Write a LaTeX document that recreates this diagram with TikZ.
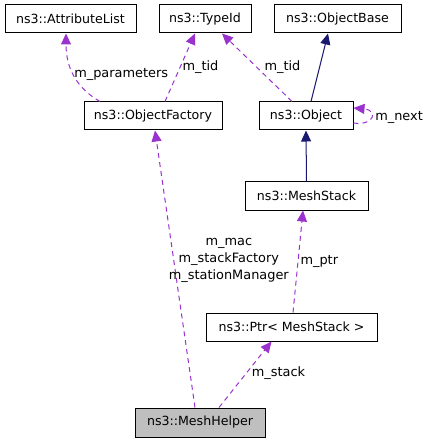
\documentclass[tikz,border=0pt]{standalone}
\usepackage{fontspec}
\setmainfont{DejaVu Sans}
\usetikzlibrary{arrows.meta}

\definecolor{edgepurple}{HTML}{9A32CD}
\definecolor{edgenavy}{HTML}{191970}
\definecolor{boxgray}{HTML}{BFBFBF}

\tikzstyle{cls}=[draw=black, line width=1pt, minimum height=28pt, inner sep=0pt, font=\fontsize{12.6}{15}\selectfont]
\tikzstyle{uses}=[draw=edgepurple, line width=1pt, dash pattern=on 5pt off 4pt, -{Triangle[length=11pt,width=10pt]}]
\tikzstyle{inherits}=[draw=edgenavy, line width=1pt, -{Triangle[length=11pt,width=10pt]}]
\tikzstyle{lbl}=[inner sep=2pt, font=\fontsize{12.9}{17}\selectfont, text=black]

\begin{document}
\begin{tikzpicture}[x=1pt, y=-1pt]
\useasboundingbox (0,0) rectangle (432,443);
\node[cls, minimum width=131pt](attrlist) at (70.5, 19) {ns3::AttributeList};
\node[cls, minimum width=92pt](typeid) at (205, 19) {ns3::TypeId};
\node[cls, minimum width=127pt](objbase) at (337.5, 19) {ns3::ObjectBase};
\node[cls, minimum width=138pt](factory) at (153, 116) {ns3::ObjectFactory};
\node[cls, minimum width=94pt](object) at (306, 116) {ns3::Object};
\node[cls, minimum width=123pt](meshstack) at (306.5, 196) {ns3::MeshStack};
\node[cls, minimum width=171pt](ptr) at (291.5, 327) {ns3::Ptr< MeshStack >};
\node[cls, minimum width=130pt, minimum height=29pt, fill=boxgray](helper) at (200, 422.5) {ns3::MeshHelper};

\begin{scope}[every node/.style={lbl}]
       \draw[uses] ([xshift=-53pt]factory.north) .. controls (80,90) and (66,72) .. node [pos=0.55, anchor=west, xshift=-2pt] {m\_parameters} ([xshift=-4.5pt]attrlist.south);
       \draw[uses] ([xshift=12pt]factory.north) -- node [pos=0.5, anchor=west] {m\_tid} ([xshift=-10pt]typeid.south);
       \draw[uses] ([xshift=-14pt]object.north) -- node [pos=0.5, anchor=west, xshift=5pt] {m\_tid} ([xshift=17pt]typeid.south);
       \draw[inherits] ([xshift=5pt]object.north) -- ([xshift=-9.5pt]objbase.south);
       \draw[uses] ([yshift=-7pt]object.east) .. controls (375,126) and (378,110) .. node [pos=0.5, anchor=west, xshift=2pt] {m\_next} ([yshift=8pt]object.east);
       \draw[inherits] (meshstack.north) -- (object.south);
       \draw[uses] ([xshift=-5pt]helper.north) -- node [pos=0.53, xshift=55pt, align=center] {m\_mac\\m\_stackFactory\\m\_stationManager} ([xshift=2pt]factory.south);
       \draw[uses] ([xshift=1.5pt]ptr.north) -- node [pos=0.5, anchor=west] {m\_ptr} ([xshift=-3.5pt]meshstack.south);
       \draw[uses] ([xshift=19pt]helper.north) -- node [pos=0.52, anchor=west, xshift=3pt] {m\_stack} ([xshift=-20pt]ptr.south);
\end{scope}
\end{tikzpicture}
\end{document}
